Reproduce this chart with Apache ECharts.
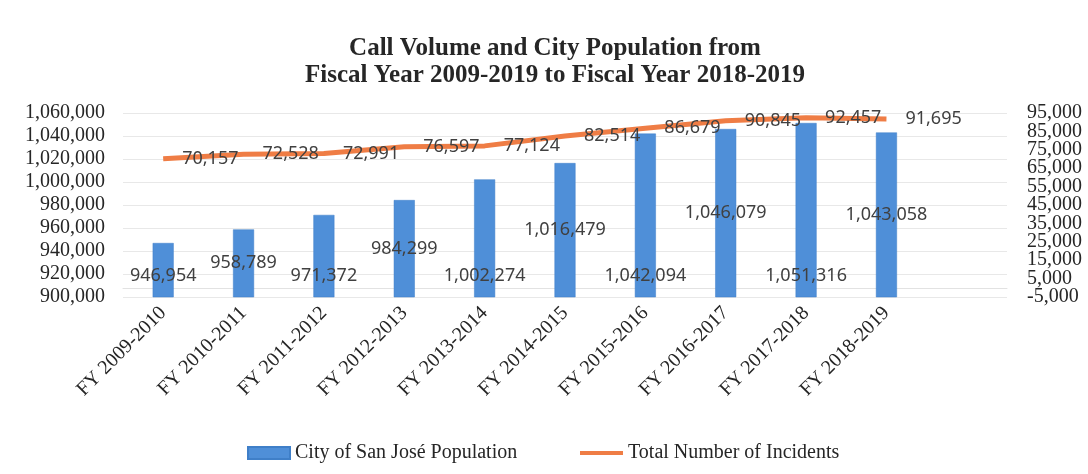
<!DOCTYPE html>
<html>
<head>
<meta charset="utf-8">
<script src="https://cdn.jsdelivr.net/npm/echarts@6/dist/echarts.min.js"></script>
<style>
  html, body { margin: 0; padding: 0; background: #fff; }
  #chart { width: 1088px; height: 474px; }
</style>
</head>
<body>
<div id="chart"></div>
<script>
// 横轴：财年（最后留一个空位，原图绘图区右侧多出一格）
var years = ['FY 2009-2010', 'FY 2010-2011', 'FY 2011-2012', 'FY 2012-2013', 'FY 2013-2014',
             'FY 2014-2015', 'FY 2015-2016', 'FY 2016-2017', 'FY 2017-2018', 'FY 2018-2019', ''];
// 城市人口（左轴）
var population = [946954, 958789, 971372, 984299, 1002274, 1016479, 1042094, 1046079, 1051316, 1043058];
// 事件总数（右轴）
var incidents = [70157, 72528, 72991, 76597, 77124, 82514, 86679, 90845, 92457, 91695];
// 右轴刻度标签
var rightTicks = [-5000, 5000, 15000, 25000, 35000, 45000, 55000, 65000, 75000, 85000, 95000];
var rightMin = -5000;
var rightMax = 95000;

var serif = 'Liberation Serif';
var sans = 'Noto Sans';
function fmt(v) { return Number(v).toLocaleString('en-US'); }

var rightLabel = {
  margin: 20,
  fontFamily: serif,
  fontSize: 20,
  color: '#262626',
  formatter: fmt
};

var myChart = echarts.init(document.getElementById('chart'));
myChart.setOption({
  backgroundColor: '#fff',
  animation: false,
  title: {
    text: 'Call Volume and City Population from\nFiscal Year 2009-2019 to Fiscal Year 2018-2019',
    left: 550,
    textAlign: 'center',
    top: 30,
    textStyle: {
      fontFamily: serif,
      fontWeight: 'bold',
      fontSize: 25,
      lineHeight: 27,
      color: '#262626'
    }
  },
  legend: [
    {
      data: ['City of San José Population'],
      left: 242,
      top: 438,
      icon: 'rect',
      itemWidth: 42,
      itemHeight: 12,
      itemGap: 0,
      textStyle: { fontFamily: serif, fontSize: 20, color: '#262626' }
    },
    {
      data: ['Total Number of Incidents'],
      left: 575,
      top: 438,
      icon: 'rect',
      itemWidth: 43,
      itemHeight: 4,
      itemGap: 0,
      textStyle: { fontFamily: serif, fontSize: 20, color: '#262626' }
    }
  ],
  grid: {
    left: 123,
    right: 81,
    top: 113,
    bottom: 177,
    containLabel: false
  },
  xAxis: [
    {
      type: 'category',
      data: years,
      axisLine: { show: true, lineStyle: { color: '#e2e2e2' } },
      axisTick: { show: false },
      axisLabel: {
        rotate: 45,
        interval: 0,
        margin: 13,
        fontFamily: serif,
        fontSize: 20,
        color: '#262626'
      }
    }
  ],
  yAxis: [
    {
      type: 'value',
      min: 900000,
      max: 1060000,
      interval: 20000,
      axisLine: { show: false },
      axisTick: { show: false },
      splitLine: { lineStyle: { color: '#e8e8e8', width: 1 } },
      axisLabel: {
        margin: 18,
        fontFamily: serif,
        fontSize: 20,
        color: '#262626',
        formatter: fmt
      }
    },
    {
      // 右轴：中间的刻度标签
      type: 'value',
      position: 'right',
      min: rightMin,
      max: rightMax,
      axisLine: { show: false },
      axisTick: { show: false },
      splitLine: { show: false },
      axisLabel: Object.assign({
        customValues: rightTicks,
        showMinLabel: false,
        showMaxLabel: false
      }, rightLabel)
    },
    {
      // 右轴：首尾两个标签（太密会被自动隐藏，单独画）
      type: 'value',
      position: 'right',
      min: rightMin,
      max: rightMax,
      axisLine: { show: false },
      axisTick: { show: false },
      splitLine: { show: false },
      axisLabel: Object.assign({
        customValues: [rightMin, rightMax],
        showMinLabel: true,
        showMaxLabel: true
      }, rightLabel)
    }
  ],
  series: [
    {
      name: 'City of San José Population',
      type: 'bar',
      barWidth: 21,
      yAxisIndex: 0,
      itemStyle: { color: '#4f8fd8', borderColor: '#3f7fc8', borderWidth: 0.5 },
      label: {
        show: true,
        position: 'inside',
        fontFamily: sans,
        fontSize: 18,
        color: '#404040',
        formatter: function (p) { return fmt(p.value); }
      },
      // 偶数项标签被手动挪到柱子底部
      data: population.map(function (v, i) {
        return i % 2 === 0
          ? { value: v, label: { position: 'insideBottom', distance: 12 } }
          : { value: v };
      })
    },
    {
      name: 'Total Number of Incidents',
      type: 'line',
      yAxisIndex: 1,
      z: 3,
      symbol: 'circle',
      symbolSize: 0,
      showSymbol: true,
      lineStyle: { color: '#ef7d45', width: 5 },
      itemStyle: { color: '#ef7d45' },
      label: {
        show: true,
        position: 'right',
        distance: 19,
        fontFamily: sans,
        fontSize: 18,
        color: '#404040',
        formatter: function (p) { return fmt(p.value); }
      },
      data: incidents
    }
  ]
});
</script>
</body>
</html>
